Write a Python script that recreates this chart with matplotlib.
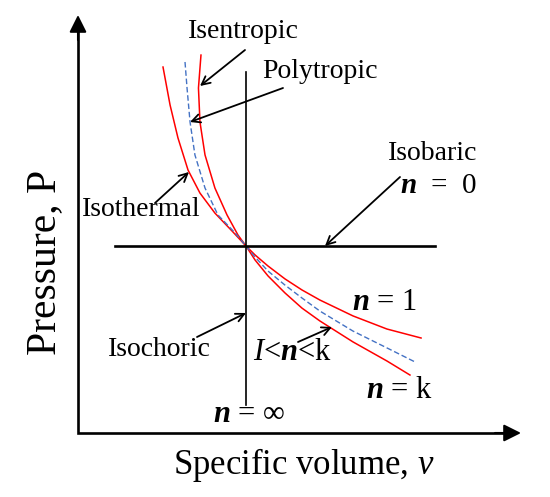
import numpy as np
import matplotlib
matplotlib.use("Agg")
import matplotlib.pyplot as plt

plt.rcParams['font.family'] = ['Liberation Serif', 'DejaVu Serif']
plt.rcParams['mathtext.fontset'] = 'custom'
plt.rcParams['mathtext.rm'] = 'Liberation Serif'
plt.rcParams['mathtext.it'] = 'Liberation Serif:italic'
plt.rcParams['mathtext.bf'] = 'Liberation Serif:bold:italic'

# process curves (specific volume v, pressure P),
# all crossing at the state point v=1, P=1
isothermal_v = [0.506, 0.548, 0.595, 0.655, 0.726, 0.815, 0.917, 1.0, 1.054, 1.131,
                1.232, 1.333, 1.440, 1.637, 1.839, 2.042]
isothermal_P = [1.957, 1.754, 1.578, 1.406, 1.283, 1.176, 1.080, 1.0, 0.952, 0.893,
                0.824, 0.765, 0.711, 0.626, 0.556, 0.508]

polytropic_v = [0.637, 0.649, 0.667, 0.696, 0.756, 0.833, 0.935, 1.0, 1.054, 1.131,
                1.232, 1.333, 1.440, 1.637, 1.839, 2.006]
polytropic_P = [1.984, 1.845, 1.663, 1.487, 1.310, 1.166, 1.070, 1.0, 0.941, 0.866,
                0.791, 0.722, 0.652, 0.545, 0.455, 0.380]

isentropic_v = [0.732, 0.717, 0.726, 0.756, 0.815, 0.887, 0.952, 1.0, 1.054, 1.131,
                1.232, 1.333, 1.440, 1.637, 1.839, 1.976]
isentropic_P = [2.021, 1.845, 1.663, 1.487, 1.310, 1.166, 1.059, 1.0, 0.925, 0.840,
                0.749, 0.668, 0.599, 0.487, 0.385, 0.310]

# isobaric (n = 0) and isochoric (n = inf) lines
isobar_v = [0.220, 2.125]
isochor_P = [0.150, 1.930]

# pixel -> data mapping (origin of the P-v axes at pixel 78,433)
X0, Y0, SX, SY = 78, 433, 168, 187
W, H = 550, 497


def d(x, y):
    return (x - X0) / SX, (Y0 - y) / SY


fig = plt.figure(figsize=(5.5, 4.97), dpi=100)
ax = fig.add_axes([0, 0, 1, 1])
ax.set_xlim(-X0 / SX, (W - X0) / SX)
ax.set_ylim(-(H - Y0) / SY, Y0 / SY)
ax.axis('off')

ax.plot(isothermal_v, isothermal_P, color='#ff0000', lw=1.1, solid_joinstyle='round')
ax.plot(isentropic_v, isentropic_P, color='#ff0000', lw=1.1, solid_joinstyle='round')
ax.plot(polytropic_v, polytropic_P, color='#4472c4', lw=1.0, ls='--', dashes=(4, 2))

ax.plot(isobar_v, [1, 1], color='black', lw=1.9)
ax.plot([1, 1], isochor_P, color='black', lw=1.2)

# axes with arrow heads
ytop = d(0, 30)[1]
xright = d(505, 0)[0]
ax.plot([0, 0, xright], [ytop, 0, 0], color='black', lw=1.9, solid_joinstyle='miter')
head = dict(arrowstyle='-|>', color='black', lw=1.5, mutation_scale=26, shrinkA=0, shrinkB=0)
ax.annotate("", xy=(0, d(0, 15)[1]), xytext=(0, d(0, 40)[1]), arrowprops=head)
ax.annotate("", xy=(d(521, 0)[0], 0), xytext=(d(495, 0)[0], 0), arrowprops=head)

fs = 20
mfs = 22
arrow = dict(arrowstyle='->', color='black', lw=1.3, mutation_scale=15, shrinkA=0, shrinkB=0)

ax.annotate("", xy=d(200, 86), xytext=d(245, 50), arrowprops=arrow)
ax.text(*d(243, 32), "Isentropic", fontsize=fs, ha='center', va='center')
ax.annotate("", xy=d(190, 122), xytext=d(283, 88), arrowprops=arrow)
ax.text(*d(320, 72), "Polytropic", fontsize=fs, ha='center', va='center')
ax.annotate("", xy=d(189, 172), xytext=d(155, 203), arrowprops=arrow)
ax.text(*d(141, 210), "Isothermal", fontsize=fs, ha='center', va='center')
ax.annotate("", xy=d(246, 313), xytext=d(197, 337), arrowprops=arrow)
ax.text(*d(159, 349), "Isochoric", fontsize=fs, ha='center', va='center')
ax.annotate("", xy=d(325, 246), xytext=d(400, 177), arrowprops=arrow)
ax.text(*d(433, 154), "Isobaric", fontsize=fs, ha='center', va='center')
ax.text(*d(439, 186), r"$\mathbf{n}$  =  0", fontsize=21, ha='center', va='center')
ax.annotate("", xy=d(332, 327), xytext=d(298, 342), arrowprops=arrow)
ax.text(*d(292, 353), r"$\mathit{I}$<$\mathbf{n}$<k", fontsize=22, ha='center', va='center')
ax.text(*d(384, 303), r"$\mathbf{n}$ = 1", fontsize=mfs, ha='center', va='center')
ax.text(*d(399, 391), r"$\mathbf{n}$ = k", fontsize=mfs, ha='center', va='center')
ax.text(*d(249, 415), r"$\mathbf{n}$ = ∞", fontsize=mfs, ha='center', va='center')

ax.text(*d(45, 262), "Pressure, P", fontsize=30, rotation=90, ha='center', va='center')
ax.text(*d(304, 465), r"Specific volume, $v$", fontsize=25, ha='center', va='center')

fig.savefig("out.png", dpi=100)
